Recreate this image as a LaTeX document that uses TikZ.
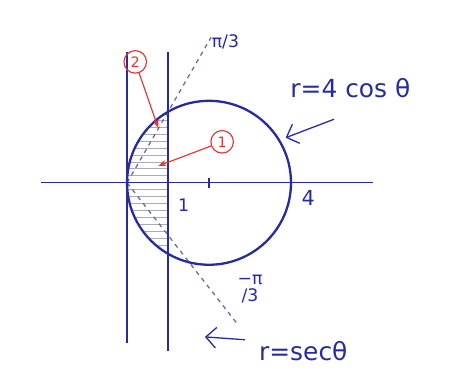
\documentclass[tikz,border=0pt]{standalone}
\usepackage{fontspec}
\setmainfont{DejaVu Sans}
\usepackage{tikz}
\usetikzlibrary{arrows.meta,positioning}
\definecolor{pen}{RGB}{38,44,160}
\definecolor{redpen}{RGB}{228,52,52}
\definecolor{pencil}{RGB}{150,150,160}

\begin{document}
\begin{tikzpicture}[
  font=\Large,
  ax/.style={pen, line width=0.9pt},
  curve/.style={pen, line width=1.6pt},
  ray/.style={pencil!60!pen, dashed, line width=0.9pt},
  hatch/.style={pencil!80, line width=0.5pt},
  lbl/.style={text=pen, inner sep=1pt},
  arr/.style={-{Straight Barb[length=2.5mm]}, pen, line width=0.9pt},
  tag/.style={draw=redpen, circle, text=redpen, line width=0.8pt, inner sep=1pt, minimum size=5.5mm, font=\normalsize},
  rarr/.style={-{Stealth[length=2mm]}, redpen, line width=0.8pt}
]
\useasboundingbox (-3.10,-4.90) rectangle (7.88,4.46);
\coordinate (O) at (0,0);
\coordinate (C) at (2,0);

% hatched part of the disc left of r = sec(theta)
\begin{scope}
  \clip (C) circle (2);
  \clip (-0.1,-2.1) rectangle (1,2.1);
  \foreach \y in {-1.7,-1.53,...,1.75}
    \draw[hatch] (-0.1,\y) -- (1,\y);
\end{scope}

% axes and the line r = sec(theta)
\draw[ax] (-2.1,0) -- (6.0,0);
\draw[ax] (0,3.2) -- (0,-3.9);
\draw[ax] (1,3.2) -- (1,-4.1);
\draw[ax] (2,0.12) -- (2,-0.12);

% rays
\draw[ray] (O) -- (60:4.1) coordinate (up);
\draw[ray] (O) -- (-52:4.4) coordinate (down);

% r = 4 cos(theta)
\draw[curve] (C) circle (2);

% labels
\node[lbl, font=\large] (top) at (2.4,3.45) {π/3};
\node[lbl] (four) at (4.42,-0.38) {4};
\node[lbl, font=\large] (one) at (1.38,-0.55) {1};
\node[lbl, font=\large, align=center] (bot) at (3.0,-2.6) {−π\\[-2pt]/3};
\node[lbl, font=\LARGE] (polar) at (5.45,2.3) {r=4 cos θ};
\node[lbl, font=\LARGE] (sec) at (4.3,-4.1) {r=secθ};

\coordinate (pa) at (5.05,1.55);
\coordinate (pb) at (3.87,1.1);
\draw[arr] (pa) -- (pb);
\coordinate (sa) at (2.88,-3.83);
\coordinate (sb) at (1.9,-3.76);
\draw[arr] (sa) -- (sb);

% regions
\node[tag] (two) at (0.2,2.95) {2};
\node[tag] (uno) at (2.32,1.0) {1};
\coordinate (r2) at (0.76,1.34);
\coordinate (r1) at (0.76,0.41);
\draw[rarr] (two) -- (r2);
\draw[rarr] (uno) -- (r1);
\end{tikzpicture}
\end{document}
